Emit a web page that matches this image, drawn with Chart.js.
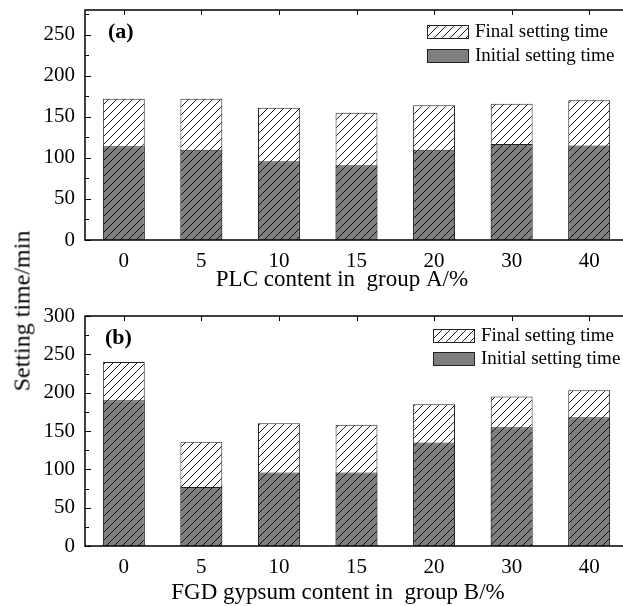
<!DOCTYPE html>
<html>
<head>
<meta charset="utf-8">
<script src="https://cdn.jsdelivr.net/npm/chart.js@4.4.0/dist/chart.umd.min.js"></script>
<style>
  html, body { margin: 0; padding: 0; background: #fff; overflow: hidden; }
  #wrap { position: relative; width: 623px; height: 606px; overflow: hidden; }
  .panel { position: absolute; left: 0; width: 632px; }
  #ytitle {
    position: absolute; left: 22px; top: 311px;
    transform: translate(-50%, -50%) rotate(-90deg);
    font: 24px "Liberation Serif", serif; white-space: nowrap; color: #000;
  }
</style>
</head>
<body>
<div id="wrap">
  <div class="panel" style="top:0;height:300px"><canvas id="chartA"></canvas></div>
  <div class="panel" style="top:300px;height:306px"><canvas id="chartB"></canvas></div>
  <div id="ytitle">Setting time/min</div>
</div>
<script>
// categories (content, %)
const contentA = ['0', '5', '10', '15', '20', '30', '40'];
const contentB = ['0', '5', '10', '15', '20', '30', '40'];

// group A: PLC content
const finalA   = [172, 172, 161, 155, 164, 166, 170];
const initialA = [114, 110, 96, 91, 110, 117, 115];

// group B: FGD gypsum content
const finalB   = [240, 136, 160, 158, 185, 195, 203];
const initialB = [190, 77, 96, 96, 135, 155, 168];

const SERIF = '"Liberation Serif", "Times New Roman", serif';

// diagonal hatch pattern
function hatch(bg) {
  const n = 8;
  const c = document.createElement('canvas');
  c.width = n; c.height = n;
  const g = c.getContext('2d');
  g.fillStyle = bg;
  g.fillRect(0, 0, n, n);
  g.strokeStyle = '#000';
  g.lineWidth = 0.9;
  g.beginPath();
  g.moveTo(0, n); g.lineTo(n, 0);
  g.moveTo(-1, 1); g.lineTo(1, -1);
  g.moveTo(n - 1, n + 1); g.lineTo(n + 1, n - 1);
  g.stroke();
  return g.createPattern(c, 'repeat');
}

// frame, inner ticks, panel label, axis title and legend
const framePlugin = {
  id: 'frame',
  afterDatasetsDraw(chart, args, opts) {
    const { ctx, chartArea: a, scales: { x, y } } = chart;
    ctx.save();
    ctx.strokeStyle = '#000';
    ctx.lineWidth = 1.5;
    ctx.strokeRect(a.left, a.top, a.right - a.left, a.bottom - a.top);
    ctx.lineWidth = 1;
    ctx.beginPath();
    for (let v = 0; v <= y.max; v += 25) {
      const py = Math.round(y.getPixelForValue(v)) + 0.5;
      const len = v % 50 === 0 ? 6 : 4;
      ctx.moveTo(a.left, py); ctx.lineTo(a.left + len, py);
    }
    x.ticks.forEach((t, i) => {
      const px = Math.round(x.getPixelForTick(i)) + 0.5;
      ctx.moveTo(px, a.top); ctx.lineTo(px, a.top + 5);
    });
    ctx.stroke();

    ctx.fillStyle = '#000';
    ctx.textBaseline = 'middle';
    ctx.font = 'bold 22px ' + SERIF;
    ctx.fillText(opts.label, a.left + opts.labelX, a.top + opts.labelY);

    // x axis title, a bit left of the plot centre as in the original
    ctx.font = '23px ' + SERIF;
    ctx.textAlign = 'center';
    ctx.fillText(opts.xTitle, opts.titleX, a.bottom + opts.titleY);
    ctx.textAlign = 'left';

    // legend (final first)
    ctx.font = '19px ' + SERIF;
    const items = chart.data.datasets.slice().reverse();
    items.forEach((ds, i) => {
      const bx = a.left + opts.legX;
      const by = a.top + opts.legY + i * opts.legStep;
      ctx.fillStyle = ds.legendColor;
      ctx.fillRect(bx, by, 42, 14);
      ctx.strokeStyle = '#222';
      ctx.strokeRect(bx + 0.5, by + 0.5, 41, 13);
      ctx.fillStyle = '#000';
      ctx.fillText(ds.label, bx + 48, by + 7);
    });
    ctx.restore();
  }
};

function makeChart(canvasId, labels, finals, initials, yMax, padTop, panel) {
  const grey = '#7f7f7f';
  return new Chart(document.getElementById(canvasId), {
    type: 'bar',
    data: {
      labels: labels,
      datasets: [
        {
          label: 'Initial setting time',
          data: initials,
          backgroundColor: hatch(grey),
          legendColor: grey,
          borderColor: '#222',
          borderWidth: 1,
          grouped: false,
          barPercentage: 0.54,
          categoryPercentage: 1
        },
        {
          label: 'Final setting time',
          data: finals,
          backgroundColor: hatch('#fff'),
          legendColor: hatch('#fff'),
          borderColor: '#222',
          borderWidth: 1,
          grouped: false,
          barPercentage: 0.54,
          categoryPercentage: 1
        }
      ]
    },
    options: {
      responsive: true,
      maintainAspectRatio: false,
      animation: false,
      layout: { padding: { top: padTop, right: 4, left: 0, bottom: 0 } },
      plugins: {
        legend: { display: false },
        tooltip: { enabled: false },
        frame: panel
      },
      scales: {
        x: {
          grid: { display: false, drawTicks: false },
          border: { display: false },
          ticks: { font: { family: SERIF, size: 21 }, color: '#000', padding: 9, maxRotation: 0 },
          afterFit: s => { s.height = 60; s.paddingLeft = 0; s.paddingRight = 0; }
        },
        y: {
          min: 0,
          max: yMax,
          grid: { display: false, drawTicks: false },
          border: { display: false },
          ticks: { stepSize: 50, font: { family: SERIF, size: 21 }, color: '#000', padding: 10 },
          afterBuildTicks: s => { s.ticks = s.ticks.filter(t => t.value % 50 === 0); },
          afterFit: s => { s.width = 85; s.paddingTop = 0; s.paddingBottom = 0; }
        }
      }
    },
    plugins: [framePlugin]
  });
}

makeChart('chartA', contentA, finalA, initialA, 280, 10,
  { label: '(a)', labelX: 23, labelY: 22, legX: 342, legY: 15, legStep: 24,
    xTitle: 'PLC content in  group A/%', titleX: 342, titleY: 40 });
makeChart('chartB', contentB, finalB, initialB, 300, 16,
  { label: '(b)', labelX: 20, labelY: 22, legX: 348, legY: 13, legStep: 23,
    xTitle: 'FGD gypsum content in  group B/%', titleX: 338, titleY: 47 });
</script>
</body>
</html>
